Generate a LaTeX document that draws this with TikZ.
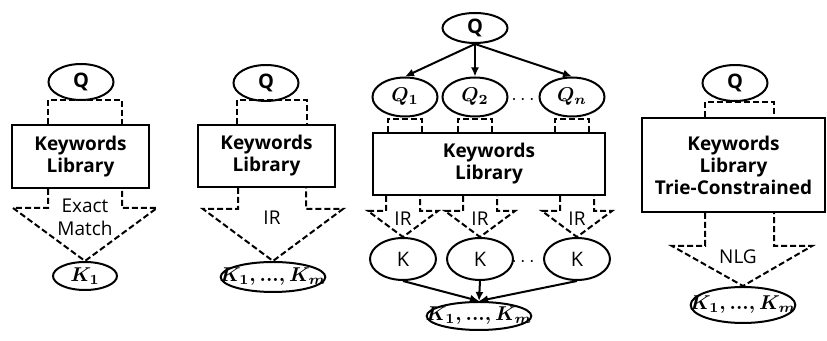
\documentclass[tikz,border=0pt]{standalone}
\usepackage{fontspec}
\setmainfont{Open Sans}
\usetikzlibrary{calc,shapes.geometric,arrows.meta}

\newcommand{\klist}{$K_1{,}\,{\ldotp}{\ldotp}{\ldotp}{,}\,K_m$}

\begin{document}
\begin{tikzpicture}[x=0.5pt,y=-0.5pt,>={Latex[length=4.5pt,width=4pt]}]
    \tikzstyle{every path}=[line width=1pt]

    \tikzstyle{kwlib}=[draw,rectangle,align=center,inner sep=0pt,
    font=\bfseries\fontsize{9.5}{11}\selectfont]
    \tikzstyle{qnode}=[draw,ellipse,inner sep=0pt,minimum width=32.5pt,
    minimum height=18pt,font=\bfseries\boldmath\fontsize{10}{11}\selectfont]
    \tikzstyle{knode}=[draw,ellipse,inner sep=0pt,minimum width=33pt,
    minimum height=21pt,font=\fontsize{10}{11}\selectfont]
    \tikzstyle{klnode}=[draw,ellipse,inner xsep=-8pt,inner ysep=0pt,
    font=\boldmath\fontsize{10}{11}\selectfont]
    \tikzstyle{flow}=[dash pattern=on 3pt off 1.5pt]
    \tikzstyle{lbl}=[align=center,inner sep=1pt,
    font=\fontsize{9.5}{11.5}\selectfont]

    \useasboundingbox (0,0) rectangle (827,341);

    %% Exact match
    \node [qnode] (qa) at (81,82) {Q};
    \node [kwlib,minimum width=68.5pt,minimum height=31.5pt] (liba) at (80.5,156.5) {Keywords\\Library};
    \node [lbl] (match) at (85,217) {Exact\\Match};
    \node [klnode,inner xsep=0pt,minimum width=32pt,minimum height=14pt] (ka) at (85,276) {$K_1$};
    \draw [flow] ($(liba.north)+(-32.5,0)$) -- ++(0,-24) -- ++(74,0) -- ++(0,24);
    \draw [flow] ($(liba.south)+(-32.5,0)$) -- ++(0,19) -- ++(-35,0) -- (ka.north)
        -- ($(liba.south)+(76.5,19)$) -- ++(-35,0) -- ++(0,-19);

    %% IR
    \node [qnode] (qb) at (266,83) {Q};
    \node [kwlib,minimum width=68.5pt,minimum height=31pt] (libb) at (266.5,156) {Keywords\\Library};
    \node [lbl] (irb) at (272,218) {IR};
    \node [klnode,minimum width=48.5pt,minimum height=15pt] (kb) at (273,277) {\klist};
    \draw [flow] ($(libb.north)+(-29.5,0)$) -- ++(0,-24) -- ++(70,0) -- ++(0,24);
    \draw [flow] ($(libb.south)+(-28.5,0)$) -- ++(0,21) -- ++(-35,0) -- (kb.north)
        -- ($(libb.south)+(76.5,21)$) -- ++(-37,0) -- ++(0,-21);

    %% Split query, IR per sub-query
    \node [qnode,minimum height=15pt] (qc) at (475,28) {Q};
    \node [qnode,minimum height=19.5pt] (qc1) at (405,97) {$Q_1$};
    \node [qnode,minimum height=19.5pt] (qc2) at (475,97) {$Q_2$};
    \node (dq) at (523,100) {$\cdots$};
    \node [qnode,minimum height=19.5pt] (qcn) at (572,97) {$Q_n$};
    \node [kwlib,minimum width=116pt,minimum height=31pt] (libc) at (489,164) {Keywords\\Library};
    \node [knode] (kc1) at (403,259) {K};
    \node [knode] (kc2) at (480,259) {K};
    \node (dk) at (523,262) {$\cdots$};
    \node [knode] (kc3) at (577,259) {K};
    \node [klnode,minimum width=51pt,minimum height=14pt] (kcm) at (479,316) {\klist};
    \foreach \q in {qc1,qc2,qcn}
        \draw [->] (qc.south) -- (\q.north);
    \foreach \k in {kc1,kc2,kc3}
        \draw [->] (\k.south) -- (kcm.north);
    \foreach \q/\k in {qc1/kc1,qc2/kc2,qcn/kc3} {
        \draw [flow] ($(\q.south |- libc.north)+(-17,0)$) -- ++(0,-13) -- ++(34,0) -- ++(0,13);
        \draw [flow] ($(\k.north |- libc.south)+(-17,0)$) -- ++(0,15) -- ++(-18,0) -- (\k.north)
            -- ($(\k.north |- libc.south)+(35,15)$) -- ++(-18,0) -- ++(0,-15);
        \node [lbl] (ir\k) at ($(\k.north)+(0,-18)$) {IR};
    }

    %% NLG
    \node [qnode] (qd) at (735,83) {Q};
    \node [kwlib,minimum width=91.5pt,minimum height=47pt] (libd) at (733.5,165) {Keywords\\Library\\Trie-Constrained};
    \node [lbl] (nlg) at (738,257) {NLG};
    \node [klnode,minimum width=51pt,minimum height=18pt] (kd) at (743,305) {\klist};
    \draw [flow] ($(libd.north)+(-28.5,0)$) -- ++(0,-15) -- ++(69,0) -- ++(0,15);
    \draw [flow] ($(libd.south)+(-28.5,0)$) -- ++(0,33) -- ++(-33,0) -- (kd.north)
        -- ($(libd.south)+(78.5,33)$) -- ++(-38,0) -- ++(0,-33);

\end{tikzpicture}
\end{document}
